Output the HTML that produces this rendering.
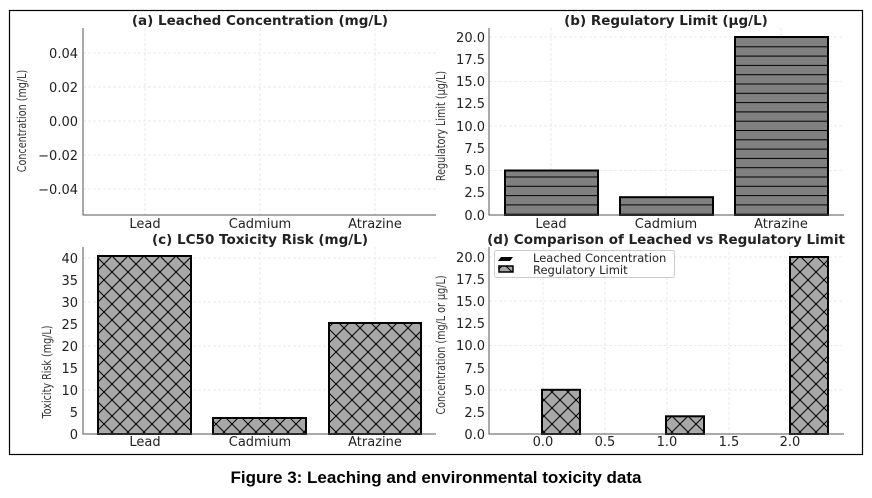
<!DOCTYPE html>
<html><head><meta charset="utf-8"><style>
body{margin:0;background:#fff;}
svg{display:block;font-family:"DejaVu Sans","Liberation Sans",sans-serif;}
</style></head><body>
<svg width="872" height="498" viewBox="0 0 872 498">
<defs>
<pattern id="xh" width="16" height="16" patternUnits="userSpaceOnUse">
<rect width="16" height="16" fill="#a8a8a8"/>
<path d="M0 0L16 16M16 0L0 16M-2 14L2 18M14 -2L18 2M-2 2L2 -2M14 18L18 14" stroke="#000" stroke-width="1"/>
</pattern>
<pattern id="hz" width="10" height="9.3" patternUnits="userSpaceOnUse" y="37">
<rect width="10" height="9.3" fill="#808080"/>
<line x1="0" y1="0.5" x2="10" y2="0.5" stroke="#000" stroke-width="1"/>
</pattern>
</defs>
<rect x="9.5" y="10.5" width="853" height="444" fill="#fff" stroke="#000" stroke-width="1.2"/>

<!-- panel a -->
<g stroke="#e4e4e4" stroke-dasharray="3,2" stroke-width="0.8">
<line x1="83" y1="53" x2="436" y2="53"/><line x1="83" y1="87" x2="436" y2="87"/><line x1="83" y1="121" x2="436" y2="121"/><line x1="83" y1="155" x2="436" y2="155"/><line x1="83" y1="189" x2="436" y2="189"/>
<line x1="145" y1="28" x2="145" y2="215"/><line x1="260" y1="28" x2="260" y2="215"/><line x1="375" y1="28" x2="375" y2="215"/>
</g>
<path d="M83 28V215H436" fill="none" stroke="#555" stroke-width="1"/>
<text x="260" y="25" font-size="13.5" font-weight="bold" text-anchor="middle" fill="#222">(a) Leached Concentration (mg/L)</text>
<g font-size="13" text-anchor="end" fill="#222">
<text x="78" y="58">0.04</text><text x="78" y="92">0.02</text><text x="78" y="126">0.00</text><text x="78" y="160">−0.02</text><text x="78" y="194">−0.04</text>
</g>
<g font-size="13" text-anchor="middle" fill="#222"><text x="145" y="228">Lead</text><text x="260" y="228">Cadmium</text><text x="375" y="228">Atrazine</text></g>
<text transform="translate(26,121) rotate(-90) scale(0.8,1)" font-size="12" text-anchor="middle" fill="#333">Concentration (mg/L)</text>

<!-- panel b -->
<g stroke="#e4e4e4" stroke-dasharray="3,2" stroke-width="0.8">
<line x1="489" y1="37" x2="844" y2="37"/><line x1="489" y1="81.5" x2="844" y2="81.5"/><line x1="489" y1="126" x2="844" y2="126"/><line x1="489" y1="170.5" x2="844" y2="170.5"/>
<line x1="551" y1="28" x2="551" y2="215"/><line x1="666" y1="28" x2="666" y2="215"/><line x1="781" y1="28" x2="781" y2="215"/>
</g>
<rect x="505" y="170.5" width="93" height="44.5" fill="url(#hz)" stroke="#000" stroke-width="2"/>
<rect x="620" y="197.2" width="93" height="17.8" fill="url(#hz)" stroke="#000" stroke-width="2"/>
<rect x="735" y="37" width="93" height="178" fill="url(#hz)" stroke="#000" stroke-width="2"/>
<path d="M489 28V215H844" fill="none" stroke="#555" stroke-width="1"/>
<text x="666" y="25" font-size="13.5" font-weight="bold" text-anchor="middle" fill="#222">(b) Regulatory Limit (µg/L)</text>
<g font-size="13" text-anchor="end" fill="#222">
<text x="485" y="42">20.0</text><text x="485" y="64">17.5</text><text x="485" y="86">15.0</text><text x="485" y="108">12.5</text><text x="485" y="131">10.0</text><text x="485" y="153">7.5</text><text x="485" y="175">5.0</text><text x="485" y="197">2.5</text><text x="485" y="220">0.0</text>
</g>
<g font-size="13" text-anchor="middle" fill="#222"><text x="551" y="228">Lead</text><text x="666" y="228">Cadmium</text><text x="781" y="228">Atrazine</text></g>
<text transform="translate(445,126) rotate(-90) scale(0.8,1)" font-size="12" text-anchor="middle" fill="#333">Regulatory Limit (µg/L)</text>

<!-- panel c -->
<g stroke="#e4e4e4" stroke-dasharray="3,2" stroke-width="0.8">
<line x1="83" y1="258" x2="436" y2="258"/><line x1="83" y1="302" x2="436" y2="302"/><line x1="83" y1="346" x2="436" y2="346"/><line x1="83" y1="390" x2="436" y2="390"/>
<line x1="260" y1="247" x2="260" y2="434"/><line x1="375" y1="247" x2="375" y2="434"/>
</g>
<rect x="98" y="256" width="93" height="178" fill="url(#xh)" stroke="#000" stroke-width="2"/>
<rect x="213" y="418" width="93" height="16" fill="url(#xh)" stroke="#000" stroke-width="2"/>
<rect x="329" y="323" width="92" height="111" fill="url(#xh)" stroke="#000" stroke-width="2"/>
<path d="M83 247V434H436" fill="none" stroke="#555" stroke-width="1"/>
<text x="260" y="244" font-size="13.5" font-weight="bold" text-anchor="middle" fill="#222">(c) LC50 Toxicity Risk (mg/L)</text>
<g font-size="13" text-anchor="end" fill="#222">
<text x="78" y="263">40</text><text x="78" y="285">35</text><text x="78" y="307">30</text><text x="78" y="329">25</text><text x="78" y="351">20</text><text x="78" y="373">15</text><text x="78" y="395">10</text><text x="78" y="417">5</text><text x="78" y="439">0</text>
</g>
<g font-size="13" text-anchor="middle" fill="#222"><text x="145" y="446">Lead</text><text x="260" y="446">Cadmium</text><text x="375" y="446">Atrazine</text></g>
<text transform="translate(51,372) rotate(-90) scale(0.8,1)" font-size="12" text-anchor="middle" fill="#333">Toxicity Risk (mg/L)</text>

<!-- panel d -->
<g stroke="#e4e4e4" stroke-dasharray="3,2" stroke-width="0.8">
<line x1="489" y1="257" x2="844" y2="257"/><line x1="489" y1="301" x2="844" y2="301"/><line x1="489" y1="345.5" x2="844" y2="345.5"/><line x1="489" y1="390" x2="844" y2="390"/>
<line x1="543" y1="247" x2="543" y2="434"/><line x1="605" y1="247" x2="605" y2="434"/><line x1="667" y1="247" x2="667" y2="434"/><line x1="729" y1="247" x2="729" y2="434"/><line x1="790" y1="247" x2="790" y2="434"/>
</g>
<rect x="542" y="389.8" width="38" height="44.2" fill="url(#xh)" stroke="#000" stroke-width="2"/>
<rect x="666" y="416.3" width="38" height="17.7" fill="url(#xh)" stroke="#000" stroke-width="2"/>
<rect x="790" y="257" width="38" height="177" fill="url(#xh)" stroke="#000" stroke-width="2"/>
<path d="M489 247V434H844" fill="none" stroke="#555" stroke-width="1"/>
<text x="666" y="244" font-size="13.5" font-weight="bold" text-anchor="middle" fill="#222">(d) Comparison of Leached vs Regulatory Limit</text>
<rect x="494.5" y="250.5" width="180" height="27" rx="2" fill="#fff" fill-opacity="0.85" stroke="#ccc"/>
<path d="M498 261H510L513 257H501Z" fill="#000"/>
<rect x="499" y="266" width="14" height="6" fill="url(#xh)" stroke="#000" stroke-width="1.5"/>
<text x="533" y="262" font-size="11.5" fill="#222">Leached Concentration</text>
<text x="533" y="274" font-size="11.5" fill="#222">Regulatory Limit</text>
<g font-size="13" text-anchor="end" fill="#222">
<text x="485" y="262">20.0</text><text x="485" y="284">17.5</text><text x="485" y="306">15.0</text><text x="485" y="328">12.5</text><text x="485" y="350">10.0</text><text x="485" y="373">7.5</text><text x="485" y="395">5.0</text><text x="485" y="417">2.5</text><text x="485" y="439">0.0</text>
</g>
<g font-size="13" text-anchor="middle" fill="#222"><text x="543" y="446">0.0</text><text x="605" y="446">0.5</text><text x="667" y="446">1.0</text><text x="729" y="446">1.5</text><text x="790" y="446">2.0</text></g>
<text transform="translate(445,345) rotate(-90) scale(0.8,1)" font-size="12" text-anchor="middle" fill="#333">Concentration (mg/L or µg/L)</text>

<text x="436" y="483" font-family="Liberation Sans, sans-serif" font-size="17" font-weight="bold" text-anchor="middle">Figure 3: Leaching and environmental toxicity data</text>
</svg>
</body></html>
